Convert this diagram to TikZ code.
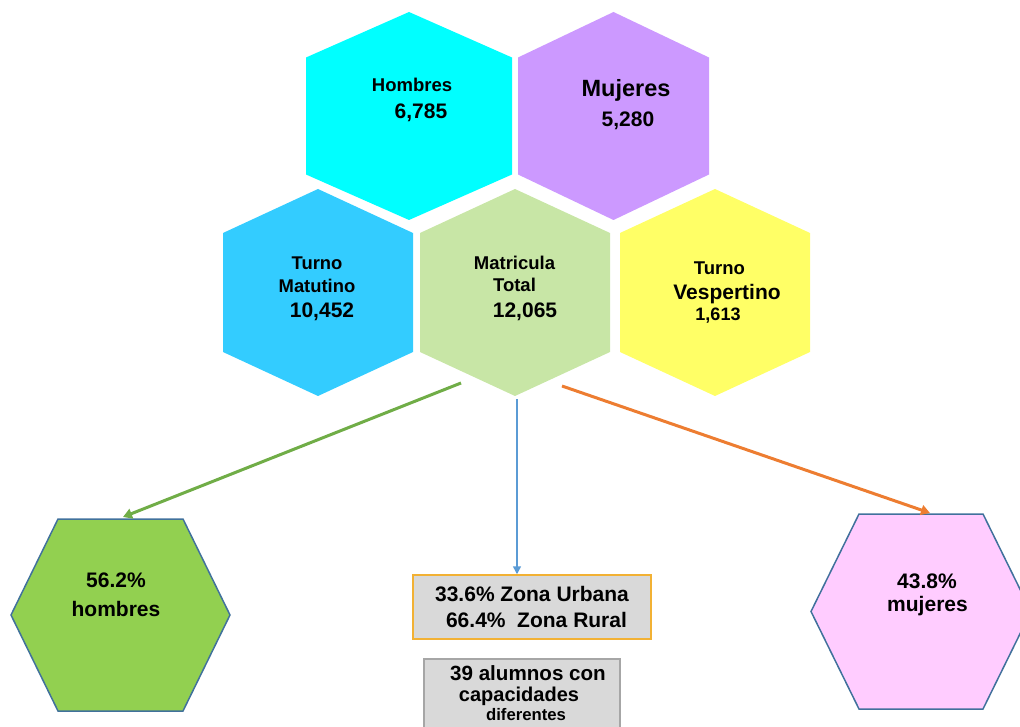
\documentclass[tikz,border=0pt]{standalone}
\usepackage{fontspec}
\setmainfont{Liberation Sans}
\usepackage{tikz}
\usetikzlibrary{arrows.meta,calc}
\usepackage{xcolor}
\definecolor{hcyan}{HTML}{00FFFF}
\definecolor{mlila}{HTML}{CC99FF}
\definecolor{tazul}{HTML}{33CCFF}
\definecolor{mverde}{HTML}{C8E6A6}
\definecolor{vamar}{HTML}{FFFF66}
\definecolor{pverde}{HTML}{92D050}
\definecolor{prosa}{HTML}{FFCCFF}
\definecolor{borde}{HTML}{41719C}
\definecolor{fgris}{HTML}{D9D9D9}
\definecolor{boro}{HTML}{F2B134}
\definecolor{bgris}{HTML}{A6A6A6}
\definecolor{fverde}{HTML}{70AD47}
\definecolor{fnaranja}{HTML}{ED7D31}
\definecolor{fazul}{HTML}{5B9BD5}
\newcommand{\tam}[1]{\fontsize{#1}{#1}\selectfont\bfseries}

\begin{document}
\begin{tikzpicture}[x=1pt,y=-1pt,
  txt/.style={anchor=base,inner sep=0pt},
  flecha/.style={-{Triangle[length=9pt,width=10pt]},line width=3pt},
  caja/.style={fill=fgris,line width=1.5pt,inner sep=0pt}]
\useasboundingbox (0,0) rectangle (1020,727);

\fill[hcyan,shift={(409,116)}] (0,-104) -- (103,-58.5) -- (103,58.5) -- (0,104) -- (-103,58.5) -- (-103,-58.5) -- cycle;
\fill[mlila,shift={(613.5,116)}] (0,-104) -- (95.5,-58.5) -- (95.5,58.5) -- (0,104) -- (-95.5,58.5) -- (-95.5,-58.5) -- cycle;
\fill[tazul,shift={(318,292.5)}] (0,-103.5) -- (95,-59.5) -- (95,59.5) -- (0,103.5) -- (-95,59.5) -- (-95,-59.5) -- cycle;
\fill[mverde,shift={(515,292.5)}] (0,-103.5) -- (95,-59.5) -- (95,59.5) -- (0,103.5) -- (-95,59.5) -- (-95,-59.5) -- cycle;
\fill[vamar,shift={(715,292.5)}] (0,-103.5) -- (95,-59.5) -- (95,59.5) -- (0,103.5) -- (-95,59.5) -- (-95,-59.5) -- cycle;

\draw[fill=pverde,draw=borde,line width=1.5pt,shift={(120.5,615)}] (-62.5,-96) -- (62.5,-96) -- (109.5,0) -- (62.5,96) -- (-62.5,96) -- (-109.5,0) -- cycle;
\draw[fill=prosa,draw=borde,line width=1.5pt,shift={(921,611.5)}] (-62,-97.5) -- (62,-97.5) -- (110,0) -- (62,97.5) -- (-62,97.5) -- (-110,0) -- cycle;

\node[caja,draw=boro,minimum width=238pt,minimum height=64pt,align=center,
  font=\fontsize{21}{26}\selectfont\bfseries] (zona) at (532,607)
  {33.6\% Zona Urbana\\\hspace*{9pt}66.4\%\ \ Zona Rural};
\node[caja,draw=bgris,minimum width=196pt,minimum height=100pt,anchor=north west] (disc) at (423,658) {};

\coordinate (totSO) at (461,383);
\coordinate (totS) at (517,399);
\coordinate (totSE) at (562,386);
\coordinate (phomN) at (123,517);
\coordinate (pmujN) at (930,513);

\draw[flecha,fverde] (totSO) -- (phomN);
\draw[flecha,fnaranja] (totSE) -- (pmujN);
\draw[-{Triangle[length=8pt,width=8pt]},line width=1.5pt,fazul] (totS) -- (totS |- zona.north);

\node[txt,font=\tam{18.5}] (hombres) at (412,92) {Hombres};
\node[txt,font=\tam{21}] (hombresN) at (421,119) {6,785};
\node[txt,font=\tam{23.5}] (mujeres) at (626,97) {Mujeres};
\node[txt,font=\tam{21}] (mujeresN) at (628,127) {5,280};

\node[txt,font=\tam{18.4}] (matA) at (317,270) {Turno};
\node[txt,font=\tam{18.4}] (matB) at (317,293) {Matutino};
\node[txt,font=\tam{21}] (matN) at (322,317) {10,452};
\node[txt,font=\tam{18.5}] (totA) at (514.5,270) {Matricula};
\node[txt,font=\tam{18.5}] (totB) at (514.5,292) {Total};
\node[txt,font=\tam{21}] (totN) at (525,317) {12,065};
\node[txt,font=\tam{18.5}] (vesA) at (719.5,275) {Turno};
\node[txt,font=\tam{21}] (vesB) at (727,300) {Vespertino};
\node[txt,font=\tam{18}] (vesN) at (718,320) {1,613};

\node[txt,font=\tam{21}] (phomA) at (116,587) {56.2\%};
\node[txt,font=\tam{21}] (phomB) at (116,616) {hombres};
\node[txt,font=\tam{21}] (pmujA) at (927,588) {43.8\%};
\node[txt,font=\tam{21}] (pmujB) at (927.5,611) {mujeres};

\node[txt,font=\tam{20.6}] (discA) at (528,680) {39 alumnos con};
\node[txt,font=\tam{20}] (discB) at (519,701) {capacidades};
\node[txt,font=\tam{16.7}] (discC) at (526,720) {diferentes};

\end{tikzpicture}
\end{document}
